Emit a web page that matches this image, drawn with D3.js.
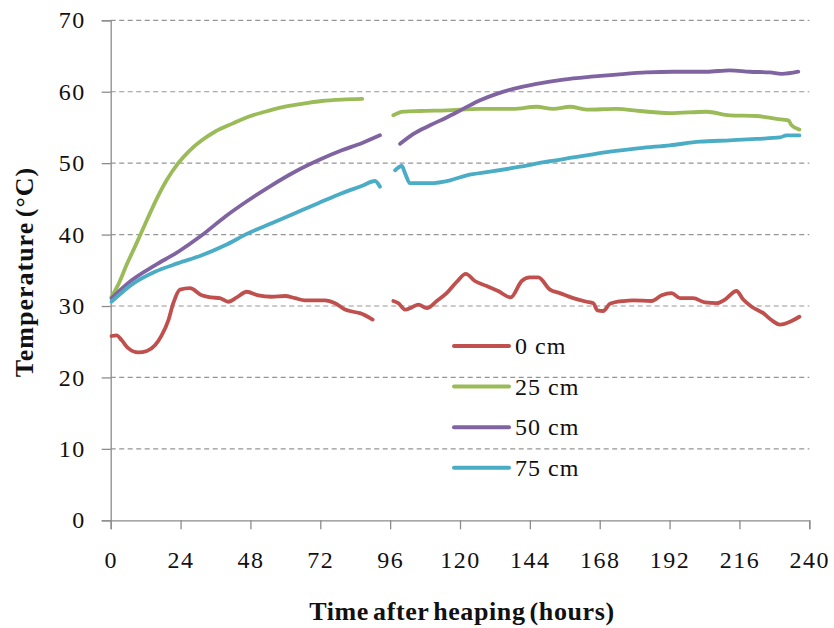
<!DOCTYPE html>
<html>
<head>
<meta charset="utf-8">
<script src="https://cdn.jsdelivr.net/npm/d3@7"></script>
<style>
  body { margin: 0; background: #fff; }
  svg text { font-family: "Liberation Serif", "DejaVu Serif", serif; }
</style>
</head>
<body>
<script>
//chart values (null marks the gap in the logging)
var hours0 = [0.3, 2, 3.8, 6, 9.5, 12.4, 15.2, 17.5, 19.8, 21.5, 23.8, 27.2, 31.3, 34.7, 37.5, 40.4, 43.3, 46.7, 50.7, 55.3, 59.9, 63.3, 66.7, 69.6, 73.6, 77.1, 80.5, 83.3, 85.6, 90,
  93,
  97.1, 98.8, 101.1, 103.4, 105.7, 108.6, 112, 115.4, 118.9, 122, 125.1, 129.2, 133.1, 137.4, 141.2, 144, 146.9, 150.9, 154.3, 158.9, 163.5, 165.8, 167.2, 169.2, 171.5, 176.1, 179.5, 185.8, 189.3, 192.7, 195.6, 200.1, 204.2, 208.2, 211, 215, 217.3, 220.2, 224.2, 227.1, 229.9, 233.9, 236.6];
var temp0 = [25.8, 25.9, 25.2, 24.1, 23.5, 23.7, 24.5, 25.9, 28.0, 30.4, 32.3, 32.5, 31.5, 31.2, 31.1, 30.6, 31.2, 32.0, 31.5, 31.3, 31.4, 31.1, 30.8, 30.8, 30.8, 30.4, 29.5, 29.2, 29.0, 28.1,
  null,
  30.7, 30.4, 29.5, 29.8, 30.2, 29.7, 30.7, 31.8, 33.4, 34.5, 33.5, 32.8, 32.1, 31.2, 33.5, 34.0, 34.0, 32.3, 31.8, 31.1, 30.6, 30.4, 29.4, 29.3, 30.3, 30.7, 30.8, 30.7, 31.5, 31.8, 31.1, 31.1, 30.5, 30.4, 30.9, 32.1, 30.9, 29.9, 29.0, 28.0, 27.4, 27.9, 28.5];

var hours25 = [0.3, 2.6, 5.5, 8.9, 12.4, 15.8, 19.2, 23.2, 27.2, 31.3, 35.8, 41.6, 47.3, 53, 58.7, 65.6, 72.5, 79.4, 86.4,
  92,
  97.1, 100.5, 106.2, 115.4, 126.9, 138.3, 146.3, 152, 157.8, 163.5, 173.8, 181.8, 192.1, 204.7, 212.7, 221.9, 228.8, 232.8, 233.9, 236.6];
var temp25 = [31.3, 33.0, 35.8, 38.8, 42.0, 45.0, 47.6, 50.0, 51.8, 53.2, 54.4, 55.5, 56.5, 57.2, 57.8, 58.3, 58.7, 58.9, 59.0,
  null,
  56.7, 57.2, 57.3, 57.4, 57.6, 57.6, 57.9, 57.6, 57.9, 57.5, 57.6, 57.3, 57.0, 57.2, 56.7, 56.6, 56.2, 56.0, 55.3, 54.7];

var hours50 = [0.3, 7.2, 15.2, 23.2, 31.3, 39.3, 47.3, 55.3, 63.3, 71.3, 79.4, 86.2, 92.5,
  96,
  99.4, 104, 109.7, 115.4, 121.1, 126.9, 132.6, 138.3, 146.3, 155.5, 165, 173.8, 184.1, 193.3, 204.7, 212.7, 219.6, 226.5, 230.5, 236.2];
var temp50 = [31.1, 33.6, 35.7, 37.6, 39.9, 42.5, 44.8, 46.9, 48.8, 50.4, 51.8, 52.8, 53.9,
  null,
  52.7, 54.1, 55.3, 56.4, 57.6, 58.8, 59.7, 60.4, 61.1, 61.7, 62.1, 62.4, 62.7, 62.8, 62.8, 63.0, 62.8, 62.7, 62.5, 62.8];

var hours75 = [0.3, 7.2, 15.2, 23.2, 31.3, 39.3, 47.3, 55.3, 63.3, 71.3, 79.4, 86.2, 90.8, 92.5,
  95,
  97.7, 100, 101.1, 102.8, 109.7, 116.6, 122.3, 130.3, 140.6, 149.8, 158.9, 165, 171.5, 181.8, 192.1, 202.4, 212.7, 221.9, 229.9, 232.2, 236.6];
var temp75 = [30.6, 33.0, 34.8, 36.0, 37.1, 38.5, 40.2, 41.6, 43.0, 44.4, 45.8, 46.8, 47.5, 46.7,
  null,
  49.0, 49.6, 48.6, 47.2, 47.2, 47.6, 48.3, 48.8, 49.5, 50.2, 50.8, 51.2, 51.6, 52.1, 52.5, 53.0, 53.2, 53.4, 53.6, 53.9, 53.9];

var seriesNames = ["0 cm", "25 cm", "50 cm", "75 cm"];
var colors = ["#C0504D", "#9BBB59", "#8064A2", "#4BACC6"];
var xTicks = [0, 24, 48, 72, 96, 120, 144, 168, 192, 216, 240];
var yTicks = [0, 10, 20, 30, 40, 50, 60, 70];

//setup svg
var svg = d3.select("body").append("svg")
  .attr("width", 834)
  .attr("height", 628);

var xScale = d3.scaleLinear().domain([0, 240]).range([110.7, 809.3]);
var yScale = d3.scaleLinear().domain([0, 70]).range([520.3, 20.3]);

//dashed gridlines
svg.append("g")
  .selectAll("line")
  .data(yTicks.slice(1))
  .enter()
  .append("line")
  .attr("x1", xScale(0))
  .attr("x2", xScale(240))
  .attr("y1", function(d) { return yScale(d); })
  .attr("y2", function(d) { return yScale(d); })
  .attr("stroke", "#959595")
  .attr("stroke-width", 1.2)
  .attr("stroke-dasharray", "5,3.5");

//y axis
var yAxis = d3.axisLeft(yScale).tickValues(yTicks).tickSize(9).tickPadding(16);
var gy = svg.append("g")
  .attr("transform", "translate(" + xScale(0) + ",0)")
  .call(yAxis);

//x axis
var xAxis = d3.axisBottom(xScale).tickValues(xTicks).tickSize(9).tickPadding(22);
var gx = svg.append("g")
  .attr("transform", "translate(0," + yScale(0) + ")")
  .call(xAxis);

[gx, gy].forEach(function(g) {
  g.select(".domain").attr("stroke", "#8c8c8c").attr("stroke-width", 1.3);
  g.selectAll(".tick line").attr("stroke", "#8c8c8c").attr("stroke-width", 1.3);
  g.selectAll(".tick text")
    .attr("font-family", "Liberation Serif")
    .attr("font-size", 24)
    .attr("letter-spacing", 1.5)
    .attr("fill", "#111");
});

//lines
var allHours = [hours0, hours25, hours50, hours75];
var allTemps = [temp0, temp25, temp50, temp75];
var line = d3.line()
  .defined(function(d) { return d[1] !== null; })
  .x(function(d) { return xScale(d[0]); })
  .y(function(d) { return yScale(d[1]); })
  .curve(d3.curveMonotoneX);

for (var s = 0; s < 4; s++) {
  var pts = allHours[s].map(function(h, i) { return [h, allTemps[s][i]]; });
  svg.append("path")
    .datum(pts)
    .attr("d", line)
    .attr("fill", "none")
    .attr("stroke", colors[s])
    .attr("stroke-width", 3.8)
    .attr("stroke-linecap", "round")
    .attr("stroke-linejoin", "round");
}

//legend
var legend = svg.append("g").attr("transform", "translate(454, 346)");
seriesNames.forEach(function(name, i) {
  legend.append("line")
    .attr("x1", 0).attr("x2", 55)
    .attr("y1", i * 40.6).attr("y2", i * 40.6)
    .attr("stroke", colors[i])
    .attr("stroke-width", 4)
    .attr("stroke-linecap", "round");
  legend.append("text")
    .attr("x", 61)
    .attr("y", i * 40.6 + 8)
    .attr("font-size", 24)
    .attr("letter-spacing", 1)
    .attr("fill", "#111")
    .text(name);
});

//axis titles
svg.append("text")
  .attr("x", 462)
  .attr("y", 620)
  .attr("text-anchor", "middle")
  .attr("font-size", 26)
  .attr("font-weight", "bold")
  .attr("letter-spacing", 0.6)
  .attr("word-spacing", -3)
  .attr("fill", "#111")
  .text("Time after heaping (hours)");

svg.append("text")
  .attr("transform", "translate(33, 272) rotate(-90)")
  .attr("text-anchor", "middle")
  .attr("font-size", 26)
  .attr("font-weight", "bold")
  .attr("letter-spacing", 1)
  .attr("word-spacing", -3)
  .attr("fill", "#111")
  .text("Temperature (°C)");
</script>
</body>
</html>
